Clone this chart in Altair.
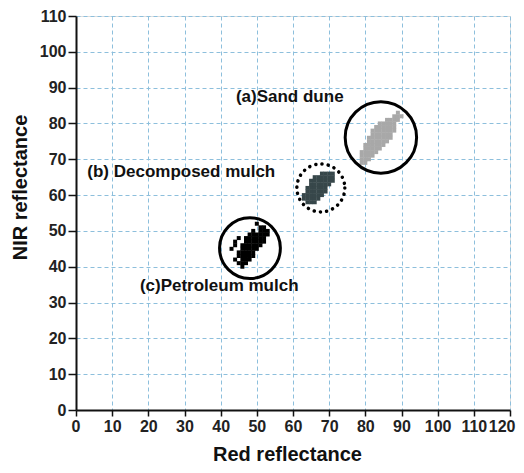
import altair as alt
import pandas as pd

# ---- data ----
x_ticks = [0, 10, 20, 30, 40, 50, 60, 70, 80, 90, 100, 110, 120]
y_ticks = [0, 10, 20, 30, 40, 50, 60, 70, 80, 90, 100, 110]

# cluster pixels: NIR value -> list of Red values
sand_rows = {
    69: [79, 80],
    70: [79, 80, 81],
    71: [79, 80, 81, 82],
    72: [79, 80, 81, 82, 83],
    73: [80, 81, 82, 83, 84],
    74: [80, 81, 82, 83, 84, 85],
    75: [81, 82, 83, 84, 85, 86],
    76: [81, 82, 83, 84, 85, 86, 87],
    77: [82, 83, 84, 85, 86, 87],
    78: [82, 83, 84, 85, 86, 87, 88],
    79: [83, 84, 85, 86, 87, 88],
    80: [84, 85, 86, 87, 88],
    81: [86, 87, 88, 89],
    82: [88, 89, 90],
    83: [89],
}
decomposed_rows = {
    58: [64, 65, 66],
    59: [63, 64, 65, 66, 67],
    60: [63, 64, 65, 66, 67, 68],
    61: [64, 65, 66, 67, 68, 69],
    62: [64, 65, 66, 67, 68, 69],
    63: [65, 66, 67, 68, 69, 70],
    64: [65, 66, 67, 68, 69, 70, 71],
    65: [66, 67, 68, 69, 70, 71],
    66: [68, 69, 70, 71],
}
petroleum_rows = {
    40: [46],
    41: [45, 46, 47],
    42: [44, 46, 47, 48],
    43: [45, 46, 47, 48, 49],
    44: [45, 46, 47, 48, 49],
    45: [43, 46, 47, 48, 49, 50],
    46: [44, 46, 47, 48, 49, 50, 51],
    47: [44, 47, 48, 49, 50, 51, 52],
    48: [45, 47, 48, 49, 50, 51, 52],
    49: [48, 49, 50, 51, 52, 53],
    50: [49, 51, 52, 53],
    51: [51, 52],
    52: [50],
}

circle_names = ["sand", "decomposed", "petroleum"]
circle_red = [84.3, 67.7, 48.1]
circle_nir = [76.1, 62.0, 45.2]

label_texts = ["(a)Sand dune", "(b) Decomposed mulch", "(c)Petroleum mulch"]
label_red = [59.1, 29.1, 39.6]
label_nir = [87.4, 66.5, 34.6]


def rows_to_df(rows, name):
    recs = []
    for nir, reds in rows.items():
        for r in reds:
            recs.append({"red": r, "nir": nir, "cls": name})
    return pd.DataFrame(recs)


pts = pd.concat([
    rows_to_df(sand_rows, "sand"),
    rows_to_df(decomposed_rows, "decomposed"),
    rows_to_df(petroleum_rows, "petroleum"),
])
circles = pd.DataFrame({"name": circle_names, "red": circle_red, "nir": circle_nir})
labels = pd.DataFrame({"text": label_texts, "red": label_red, "nir": label_nir})

FONT = "Liberation Sans"

xs = alt.Scale(domain=[0, 120], nice=False, zero=True)
ys = alt.Scale(domain=[0, 110], nice=False, zero=True)

x_axis = alt.Axis(
    values=x_ticks, title="Red reflectance", grid=True,
    gridColor="#8dbfdc", gridDash=[4, 3], gridWidth=1,
    domainColor="#111", domainWidth=2, tickColor="#111", tickWidth=1.5, tickSize=6,
    labelFont=FONT, labelFontSize=16, labelFontWeight="bold", labelColor="#222",
    labelPadding=2, labelFlush=True, labelFlushOffset=5, labelOverlap=False,
    titleFont=FONT, titleFontSize=20, titleFontWeight="bold", titleColor="#111",
    titleX=211, titleY=50, titleBaseline="alphabetic",
)
y_axis = alt.Axis(
    values=y_ticks, title="NIR reflectance", grid=True,
    gridColor="#8dbfdc", gridDash=[4, 3], gridWidth=1,
    domainColor="#111", domainWidth=2, tickColor="#111", tickWidth=1.5, tickSize=8,
    labelFont=FONT, labelFontSize=16, labelFontWeight="bold", labelColor="#222",
    labelPadding=2, labelFlush=False, labelOverlap=False,
    titleFont=FONT, titleFontSize=20, titleFontWeight="bold", titleColor="#111",
    titleX=-56, titleY=171, titleAngle=270, titleAlign="center", titleBaseline="middle",
)

X = alt.X("red:Q", scale=xs, axis=x_axis)
Y = alt.Y("nir:Q", scale=ys, axis=y_axis)

points = alt.Chart(pts).mark_point(shape="square", filled=True, size=16, opacity=1, strokeWidth=0).encode(
    x=X, y=Y,
    color=alt.Color("cls:N", scale=alt.Scale(domain=["sand", "decomposed", "petroleum"],
                                              range=["#a8a8a8", "#37474a", "#000000"]), legend=None),
)

base_c = alt.Chart(circles)
sand_circle = base_c.transform_filter(alt.datum.name == "sand").mark_point(
    shape="circle", filled=False, size=5100, stroke="#000", strokeWidth=3, opacity=1
).encode(x=X, y=Y)
dec_circle = base_c.transform_filter(alt.datum.name == "decomposed").mark_point(
    shape="circle", filled=False, size=2300, stroke="#000", strokeWidth=3.5, opacity=1,
    strokeDash=[0.1, 6.2], strokeCap="round"
).encode(x=X, y=Y)
pet_circle = base_c.transform_filter(alt.datum.name == "petroleum").mark_point(
    shape="circle", filled=False, size=3700, stroke="#000", strokeWidth=3, opacity=1
).encode(x=X, y=Y)

texts = alt.Chart(labels).mark_text(
    font=FONT, fontSize=17, fontWeight="bold", color="#111", align="center", baseline="middle"
).encode(x=X, y=Y, text="text:N")

chart = alt.layer(points, sand_circle, dec_circle, pet_circle, texts).properties(
    width=434, height=394,
    autosize=alt.AutoSizeParams(type="none"),
    padding={"left": 68, "top": 8, "right": 6, "bottom": 55},
).configure_view(stroke=None).configure(background="white")

chart.save("out.html", embed_options={"renderer": "svg", "actions": False})
